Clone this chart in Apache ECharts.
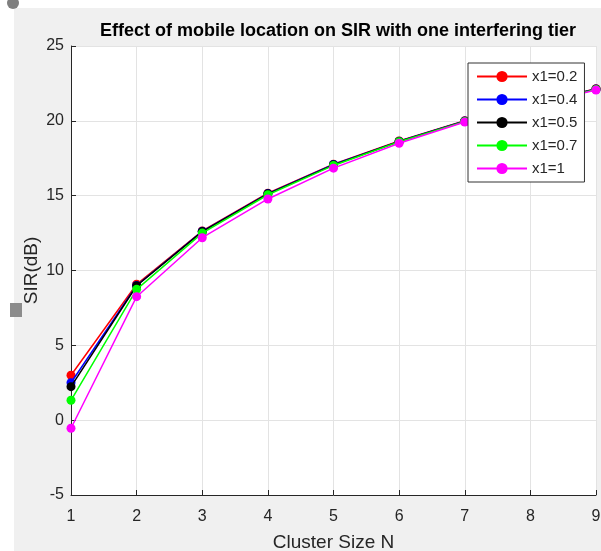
<!DOCTYPE html>
<html>
<head>
<meta charset="utf-8">
<script src="https://cdn.jsdelivr.net/npm/echarts@6/dist/echarts.min.js"></script>
<style>
html,body{margin:0;padding:0;background:#fff;}
#chart{width:601px;height:551px;}
</style>
</head>
<body>
<div id="chart"></div>
<script>
const clusterSizes = [1, 2, 3, 4, 5, 6, 7, 8, 9];
const seriesNames = ['x1=0.2', 'x1=0.4', 'x1=0.5', 'x1=0.7', 'x1=1'];
const sir_x02 = [3.0, 9.08, 12.64, 15.16, 17.1, 18.65, 20.0, 21.1, 22.15];
const sir_x04 = [2.5, 9.0, 12.62, 15.14, 17.08, 18.63, 19.99, 21.1, 22.12];
const sir_x05 = [2.24, 8.98, 12.6, 15.12, 17.06, 18.62, 19.98, 21.09, 22.11];
const sir_x07 = [1.33, 8.74, 12.5, 15.06, 17.02, 18.6, 19.96, 21.07, 22.1];
const sir_x1 = [-0.54, 8.25, 12.19, 14.78, 16.84, 18.5, 19.92, 21.02, 22.06];
const colors = ['#ff0000', '#0000ff', '#000000', '#00ff00', '#ff00ff'];
const yTicks = [-5, 0, 5, 10, 15, 20, 25];

const allData = [sir_x02, sir_x04, sir_x05, sir_x07, sir_x1];
const chart = echarts.init(document.getElementById('chart'), null, {renderer: 'canvas'});
const textColor = '#262626';
const font = 'Liberation Sans, Arial, sans-serif';

const series = seriesNames.map((name, i) => ({
  name: name,
  type: 'line',
  data: clusterSizes.map((x, j) => [x, allData[i][j]]),
  symbol: 'circle',
  symbolSize: 9,
  showSymbol: true,
  lineStyle: {color: colors[i], width: 1.5},
  itemStyle: {color: colors[i]},
  z: 3 + i,
  animation: false
}));

chart.setOption({
  animation: false,
  backgroundColor: '#ffffff',
  graphic: [
    {type: 'rect', left: 14, top: 8, shape: {width: 600, height: 560}, style: {fill: '#f0f0f0'}, z: -10, silent: true},
    {type: 'circle', shape: {cx: 13, cy: 3, r: 6}, style: {fill: '#7f7f7f'}, z: -5, silent: true},
    {type: 'rect', shape: {x: 10, y: 303, width: 12, height: 14}, style: {fill: '#8c8c8c'}, z: 10, silent: true}
  ],
  title: {
    text: 'Effect of mobile location on SIR with one interfering tier',
    left: 333,
    textAlign: 'center',
    top: 17,
    textStyle: {fontFamily: font, fontSize: 18, fontWeight: 'bold', color: '#000'}
  },
  grid: {
    left: 71, right: 5, top: 46, bottom: 56,
    containLabel: false,
    outerBoundsMode: 'none',
    show: true, backgroundColor: '#ffffff', borderWidth: 0
  },
  legend: {
    orient: 'vertical',
    left: 468,
    top: 63,
    z: 20,
    backgroundColor: '#ffffff',
    borderColor: '#333333',
    borderWidth: 1,
    padding: [6, 7, 6, 8],
    itemWidth: 50,
    itemHeight: 14,
    itemGap: 8,
    textStyle: {fontFamily: font, fontSize: 15, color: textColor},
    data: seriesNames
  },
  xAxis: {
    type: 'value',
    min: 1, max: 9, interval: 1,
    name: 'Cluster Size N',
    nameLocation: 'middle',
    nameGap: 38,
    nameMoveOverlap: false,
    nameTextStyle: {fontFamily: font, fontSize: 19, color: textColor},
    axisLine: {show: true, onZero: false, lineStyle: {color: '#262626', width: 1}},
    axisTick: {show: true, inside: true, length: 5, lineStyle: {color: '#262626'}},
    axisLabel: {fontFamily: font, fontSize: 16, color: textColor, margin: 14},
    splitLine: {show: true, lineStyle: {color: '#e3e3e3', width: 1}}
  },
  yAxis: {
    type: 'value',
    min: -5, max: 25, interval: 5,
    name: 'SIR(dB)',
    nameLocation: 'middle',
    nameGap: 30,
    nameMoveOverlap: false,
    nameRotate: 90,
    nameTextStyle: {fontFamily: font, fontSize: 19, color: textColor},
    axisLine: {show: true, onZero: false, lineStyle: {color: '#262626', width: 1}},
    axisTick: {show: true, inside: true, length: 5, lineStyle: {color: '#262626'}},
    axisLabel: {fontFamily: font, fontSize: 16, color: textColor, margin: 7,
      formatter: v => yTicks.includes(v) ? String(v) : ''},
    splitLine: {show: true, lineStyle: {color: '#e3e3e3', width: 1}}
  },
  series: series
});
</script>
</body>
</html>
